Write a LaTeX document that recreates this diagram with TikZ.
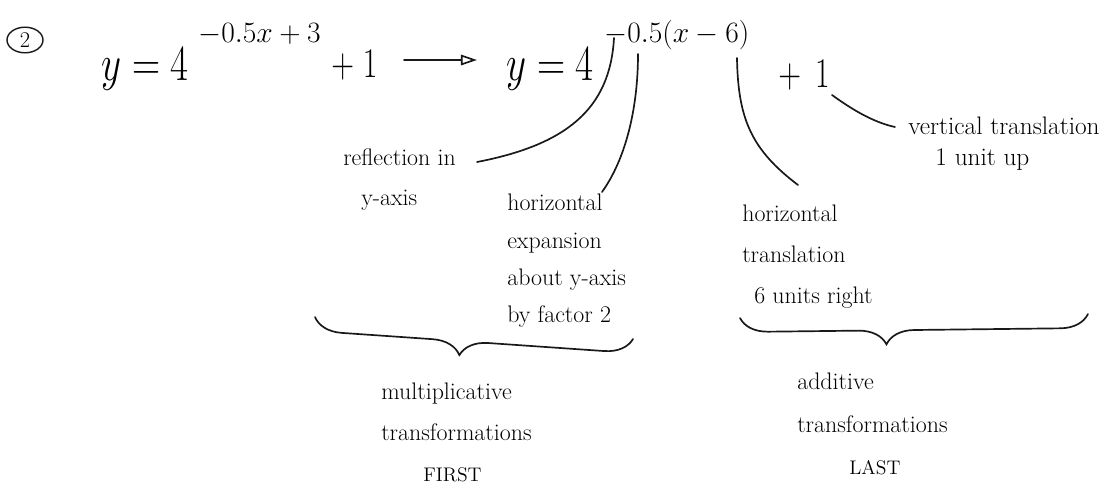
\RequirePackage{fix-cm}
\documentclass[tikz,border=0pt]{standalone}
\usepackage{amsmath}
\usepackage{graphicx}
\usepackage{tikz}
\usetikzlibrary{arrows.meta, decorations.pathreplacing, shapes.geometric}
\newcommand{\tallmath}[2][0.77]{\scalebox{#1}[1]{$#2$}}

\begin{document}
\begin{tikzpicture}[x=0.025cm, y=-0.025cm]
    \tikzset{
        eqbig/.style={inner sep=0pt, anchor=base west, font=\fontsize{36}{40}\selectfont},
        eqexp/.style={inner sep=0pt, anchor=base west, font=\fontsize{21}{24}\selectfont},
        eqplus/.style={inner sep=0pt, anchor=base west, font=\fontsize{30}{34}\selectfont},
        note/.style={inner sep=0pt, anchor=north west, align=left, text=black,
            font=\fontsize{17}{27}\selectfont},
        pencil/.style={line width=1.2pt, draw=black!90, line cap=round},
        mapsto/.style={pencil, -{Triangle[open, length=4mm, width=2.6mm]}},
        hbrace/.style={pencil, decorate,
            decoration={brace, mirror, amplitude=0.7cm, aspect=#1}}
    }
    \useasboundingbox (0,0) rectangle (1107,487);

    \node[ellipse, draw=black!90, line width=1pt, minimum width=0.9cm,
        minimum height=0.64cm, inner sep=0pt, font=\fontsize{16}{18}\selectfont]
        (num) at (25,40) {2};

    \node[eqbig] (ly) at (101,80) {\tallmath{y = 4}};
    \node[eqexp] (lexp) at (198,42) {$-0.5x+3$};
    \node[eqplus] (lone) at (331,77) {\tallmath[0.75]{+\;1}};
    \node[eqbig] (ry) at (506,80) {\tallmath{y = 4}};
    \node[eqexp] (rexp) at (604,42) {$-0.5(x-6)$};
    \node[eqplus] (rone) at (778,87) {\tallmath[0.75]{+\;\,1}};

    \coordinate (arrs) at (404,60);
    \coordinate (arre) at (477,60);
    \draw[mapsto] (arrs) -- (arre);

    \node[note, font=\fontsize{17}{28.5}\selectfont] (refl) at (343,148)
        {reflection in\\\hspace*{0.45cm}y-axis};
    \node[note, font=\fontsize{17}{26.5}\selectfont] (hexp) at (507,194)
        {horizontal\\expansion\\about y-axis\\by factor 2};
    \node[note, font=\fontsize{17}{29}\selectfont] (htr) at (742,205)
        {horizontal\\translation\\\hspace*{0.3cm}6 units right};
    \node[note, font=\fontsize{18}{21.5}\selectfont] (vtr) at (908,117)
        {vertical translation\\\hspace*{0.68cm}1 unit up};

    \coordinate (negbar) at (614,38);
    \coordinate (halfbar) at (638,54);
    \coordinate (sixbar) at (737,58);
    \coordinate (onebar) at (832,95);
    \coordinate (reflin) at (477,162);
    \coordinate (hexpin) at (602,192);
    \coordinate (htrin) at (798,185);
    \coordinate (vtrin) at (895,127);

    \draw[pencil] (negbar) .. controls (610,110) and (565,145) .. (reflin);
    \draw[pencil] (halfbar) .. controls (638,110) and (625,160) .. (hexpin);
    \draw[pencil] (sixbar) .. controls (738,120) and (752,150) .. (htrin);
    \draw[pencil] (onebar) .. controls (850,108) and (872,122) .. (vtrin);

    \draw[hbrace=0.46] (315,317) -- (633,339);
    \draw[hbrace=0.42] (740,318) -- (1088,314);

    \node[note, font=\fontsize{17}{29}\selectfont] (mult) at (381,383)
        {multiplicative\\transformations\\
         \hspace*{1.05cm}{\fontsize{14}{16}\selectfont FIRST}};
    \node[note, font=\fontsize{17}{30}\selectfont] (addt) at (797,373)
        {additive\\transformations\\
         \hspace*{1.3cm}{\fontsize{14}{16}\selectfont LAST}};
\end{tikzpicture}
\end{document}
